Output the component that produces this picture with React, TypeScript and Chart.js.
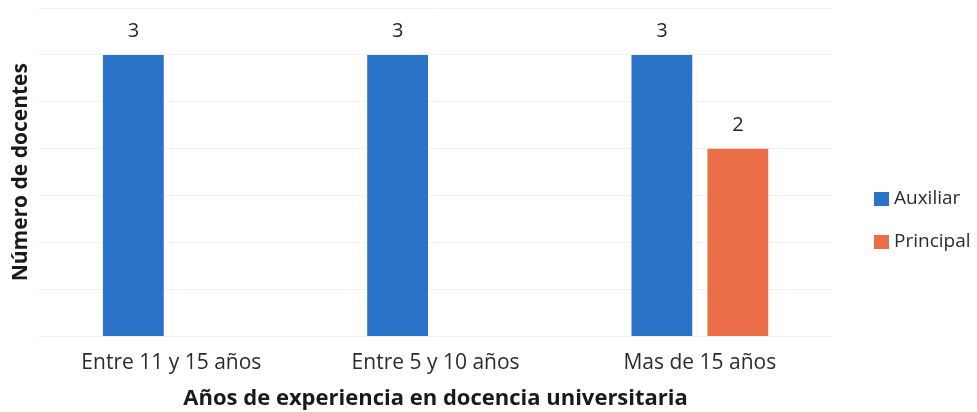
import React, { useEffect, useRef } from "react";
import { Chart, registerables } from "chart.js";

Chart.register(...registerables);

const categories = ["Entre 11 y 15 años", "Entre 5 y 10 años", "Mas de 15 años"];
const auxiliar = [3, 3, 3];
const principal = [null, null, 2];
const seriesNames = ["Auxiliar", "Principal"];
const colors = ["#2A72C8", "#EB6E48"];

const FONT = "'Open Sans', 'DejaVu Sans', sans-serif";

const valueLabels = {
  id: "valueLabels",
  afterDatasetsDraw(chart: any) {
    const ctx = chart.ctx;
    ctx.save();
    ctx.font = `20px ${FONT}`;
    ctx.fillStyle = "#262626";
    ctx.textAlign = "center";
    ctx.textBaseline = "alphabetic";
    chart.data.datasets.forEach((ds: any, i: number) => {
      const meta = chart.getDatasetMeta(i);
      meta.data.forEach((el: any, j: number) => {
        const v = ds.data[j];
        if (v === null || v === undefined) return;
        ctx.fillText(String(v), el.x, el.y - 18);
      });
    });
    ctx.restore();
  },
};

const sideLegend = {
  id: "sideLegend",
  afterDraw(chart: any) {
    const ctx = chart.ctx;
    ctx.save();
    ctx.font = `19px ${FONT}`;
    ctx.textAlign = "left";
    ctx.textBaseline = "middle";
    const ys = [199, 242];
    chart.data.datasets.forEach((ds: any, i: number) => {
      const y = ys[i];
      ctx.fillStyle = ds.backgroundColor;
      ctx.fillRect(874, y - 7, 15, 14);
      ctx.fillStyle = "#2b2b2b";
      ctx.fillText(ds.label, 894, y);
    });
    ctx.restore();
  },
};

export default function App() {
  const ref = useRef<HTMLCanvasElement>(null);
  useEffect(() => {
    if (!ref.current) return;
    const chart = new Chart(ref.current, {
      type: "bar",
      data: {
        labels: categories,
        datasets: [
          { label: seriesNames[0], data: auxiliar, backgroundColor: colors[0] },
          { label: seriesNames[1], data: principal as any, backgroundColor: colors[1] },
        ],
      },
      options: {
        animation: false,
        responsive: false,
        maintainAspectRatio: false,
        layout: { padding: { top: 8, left: 4, right: 145, bottom: 0 } },
        datasets: {
          bar: { categoryPercentage: 0.575, barPercentage: 0.8 },
        } as any,
        scales: {
          x: {
            grid: { display: false },
            border: { display: false },
            ticks: { color: "#2b2b2b", font: { family: FONT, size: 21 }, padding: 6 },
            title: {
              display: true,
              text: "Años de experiencia en docencia universitaria",
              color: "#1a1a1a",
              font: { family: FONT, size: 22, weight: "bold" },
              padding: { top: 4, bottom: 0 },
            },
          },
          y: {
            min: 0,
            max: 3.5,
            ticks: { display: false, stepSize: 0.5 },
            grid: { color: "#f2f2f2", drawTicks: false },
            border: { display: false },
            title: {
              display: true,
              text: "Número de docentes",
              color: "#1a1a1a",
              font: { family: FONT, size: 21, weight: "bold" },
              padding: { bottom: 6 },
            },
          },
        },
        plugins: {
          legend: { display: false },
          tooltip: { enabled: false },
        },
      },
      plugins: [valueLabels, sideLegend],
    });
    return () => chart.destroy();
  }, []);
  return (
    <div style={{ position: "fixed", left: 0, top: 0, width: 977, height: 412, background: "#fff" }}>
      <canvas ref={ref} width={977} height={412} />
    </div>
  );
}
